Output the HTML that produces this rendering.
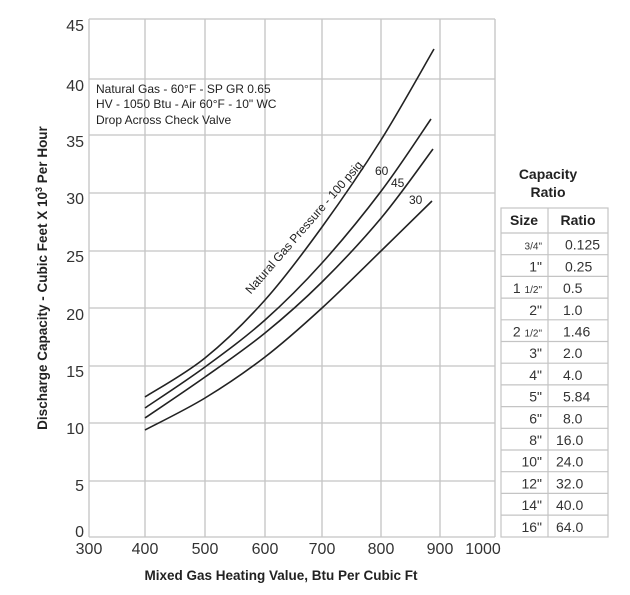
<!DOCTYPE html>
<html><head><meta charset="utf-8"><style>
body{margin:0;background:#fff;}
svg{display:block;font-family:"Liberation Sans",Arial,sans-serif;}
</style></head><body>
<svg width="630" height="595" viewBox="0 0 630 595" xmlns="http://www.w3.org/2000/svg">
<g stroke="#c4c4c4" stroke-width="1.3" fill="none">
<line x1="89" y1="19" x2="89" y2="537"/>
<line x1="145" y1="19" x2="145" y2="537"/>
<line x1="205" y1="19" x2="205" y2="537"/>
<line x1="265" y1="19" x2="265" y2="537"/>
<line x1="322" y1="19" x2="322" y2="537"/>
<line x1="381" y1="19" x2="381" y2="537"/>
<line x1="440" y1="19" x2="440" y2="537"/>
<line x1="495" y1="19" x2="495" y2="537"/>
<line x1="89" y1="19" x2="495" y2="19"/>
<line x1="89" y1="79" x2="495" y2="79"/>
<line x1="89" y1="135" x2="495" y2="135"/>
<line x1="89" y1="193" x2="495" y2="193"/>
<line x1="89" y1="251" x2="495" y2="251"/>
<line x1="89" y1="308" x2="495" y2="308"/>
<line x1="89" y1="366" x2="495" y2="366"/>
<line x1="89" y1="423" x2="495" y2="423"/>
<line x1="89" y1="481" x2="495" y2="481"/>
<line x1="89" y1="537" x2="495" y2="537"/>
</g>
<g id="curves" stroke="#222" stroke-width="1.6" fill="none"></g>
<g font-size="16" fill="#333" text-anchor="end">
<text x="84" y="31">45</text><text x="84" y="91">40</text><text x="84" y="147">35</text>
<text x="84" y="204">30</text><text x="84" y="262">25</text><text x="84" y="320">20</text>
<text x="84" y="377">15</text><text x="84" y="434">10</text><text x="84" y="491">5</text>
<text x="84" y="537">0</text>
</g>
<g font-size="16" fill="#333" text-anchor="middle">
<text x="89" y="554">300</text><text x="145" y="554">400</text><text x="205" y="554">500</text>
<text x="265" y="554">600</text><text x="322" y="554">700</text><text x="381" y="554">800</text>
<text x="440" y="554">900</text><text x="483" y="554">1000</text>
</g>
<text x="281" y="580" font-size="13.5" font-weight="bold" fill="#222" text-anchor="middle">Mixed Gas Heating Value, Btu Per Cubic Ft</text>
<text transform="translate(47,278) rotate(-90)" font-size="13.5" font-weight="bold" fill="#222" text-anchor="middle">Discharge Capacity - Cubic Feet X 10<tspan dy="-5" font-size="9">3</tspan><tspan dy="5"> Per Hour</tspan></text>
<g font-size="12" fill="#222">
<text x="96" y="93">Natural Gas - 60°F - SP GR 0.65</text>
<text x="96" y="108">HV - 1050 Btu - Air 60°F - 10" WC</text>
<text x="96" y="124">Drop Across Check Valve</text>
</g>
<text transform="translate(307,230) rotate(-49)" font-size="12" fill="#222" text-anchor="middle">Natural Gas Pressure - 100 psig</text>
<g font-size="12" fill="#222">
<text x="375" y="175">60</text><text x="391" y="187">45</text><text x="409" y="204">30</text>
</g>
<text x="548" y="179" font-size="14" font-weight="bold" fill="#222" text-anchor="middle">Capacity</text>
<text x="548" y="197" font-size="14" font-weight="bold" fill="#222" text-anchor="middle">Ratio</text>
<g stroke="#c4c4c4" stroke-width="1.2" fill="none">
<rect x="501" y="208" width="107" height="329"/>
<line x1="548" y1="208" x2="548" y2="537"/>
<line x1="501" y1="233" x2="608" y2="233"/>
</g>
<g id="rows"></g>
<text x="524" y="225" font-size="14" font-weight="bold" fill="#222" text-anchor="middle">Size</text>
<text x="578" y="225" font-size="14" font-weight="bold" fill="#222" text-anchor="middle">Ratio</text>
</svg>
<script>
var NS="http://www.w3.org/2000/svg";
var data=[
[[145,397],[205,358],[265,300],[322,227],[381,140],[434,49]],
[[145,408],[205,367],[265,320],[322,263],[382,190],[431,119]],
[[145,418],[205,377],[265,333],[322,282],[382,217],[433,149]],
[[145,430],[205,398],[265,357],[322,308],[382,250],[432,201]]];
var g=document.getElementById("curves");
data.forEach(function(p){
 var d="M"+p[0][0]+","+p[0][1];
 for(var i=0;i<p.length-1;i++){
  var p0=p[i-1]||p[i],p1=p[i],p2=p[i+1],p3=p[i+2]||p2;
  var c1=[p1[0]+(p2[0]-p0[0])/6,p1[1]+(p2[1]-p0[1])/6];
  var c2=[p2[0]-(p3[0]-p1[0])/6,p2[1]-(p3[1]-p1[1])/6];
  d+=" C"+c1+" "+c2+" "+p2;
 }
 var e=document.createElementNS(NS,"path");e.setAttribute("d",d);g.appendChild(e);
});
var rows=[["3/4\"","0.125",565,1],["1\"","0.25",565],["1 1/2\"","0.5",563,2],["2\"","1.0",563],["2 1/2\"","1.46",563,2],["3\"","2.0",563],["4\"","4.0",563],["5\"","5.84",563],["6\"","8.0",563],["8\"","16.0",556],["10\"","24.0",556],["12\"","32.0",556],["14\"","40.0",556],["16\"","64.0",556]];
var rg=document.getElementById("rows");var y0=233,h=21.7;
rows.forEach(function(r,i){
 var yb=y0+h*(i+1);
 if(i<rows.length-1){var l=document.createElementNS(NS,"line");l.setAttribute("x1",501);l.setAttribute("x2",608);l.setAttribute("y1",yb);l.setAttribute("y2",yb);l.setAttribute("stroke","#c4c4c4");l.setAttribute("stroke-width","1.2");rg.appendChild(l);}
 var t=document.createElementNS(NS,"text");t.setAttribute("x",542);t.setAttribute("y",yb-5);t.setAttribute("text-anchor","end");t.setAttribute("fill","#333");
 if(r[3]==1){t.setAttribute("font-size","10");t.textContent=r[0];}
 else if(r[3]==2){var a=r[0].split(" ");t.setAttribute("font-size","14");t.appendChild(document.createTextNode(a[0]+" "));var s=document.createElementNS(NS,"tspan");s.setAttribute("font-size","10");s.textContent=a[1];t.appendChild(s);}
 else{t.setAttribute("font-size","14");t.textContent=r[0];}
 rg.appendChild(t);
 var v=document.createElementNS(NS,"text");v.setAttribute("x",r[2]);v.setAttribute("y",yb-5);v.setAttribute("font-size","14");v.setAttribute("fill","#333");v.textContent=r[1];rg.appendChild(v);
});
</script>
</body></html>
